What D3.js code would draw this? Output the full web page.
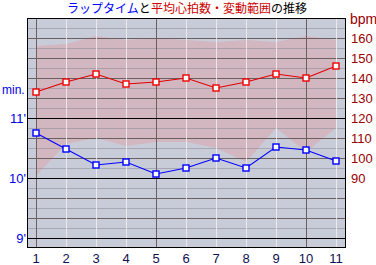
<!DOCTYPE html>
<html><head><meta charset="utf-8">
<script src="https://cdn.jsdelivr.net/npm/d3@7"></script>
<style>
html,body{margin:0;padding:0;background:#fff;}
svg{display:block;}
text{font-family:"Liberation Sans",Arial,sans-serif;}
</style></head>
<body>
<svg id="c" width="376" height="265"></svg>
<script>
// ---- data ----
const laps = [1,2,3,4,5,6,7,8,9,10,11];
const lapSeconds = [645,629,613,616,604,610,620,610,631,628,617];   // lap time (s)
const avgHR = [133,138,142,137,138,140,135,138,142,140,146];         // bpm
const hrMax = [156,157,161,159,160,159,158,159,158,161,159];         // bpm range top
const hrMin = [91,107,110,106,108,108,105,98,115,103,115];           // bpm range bottom
const minTicks = [540,600,660];
const minTickLabels = ["9'","10'","11'"];
const bpmTicks = [90,100,110,120,130,140,150,160];

const svg = d3.select("#c");
const L=27, R=346, T=18, B=248;

const x = d3.scaleLinear().domain([0.7, 11.3333]).range([L, R]);
const yT = d3.scaleLinear().domain([530, 760]).range([B, T]);
const yH = d3.scaleLinear().domain([55, 170]).range([B, T]);

// background
svg.append("rect").attr("x",L).attr("y",T).attr("width",R-L).attr("height",B-T).attr("fill","#c8ccd8");

// HR range band
const area = d3.area().x((d,i)=>x(laps[i])).y0((d,i)=>yH(hrMin[i])).y1((d,i)=>yH(hrMax[i]));
svg.append("path").datum(laps).attr("d",area).attr("fill","#d2b7c1");

// light horizontal grid every 10 s
const g = svg.append("g").attr("shape-rendering","crispEdges");
d3.range(540, 760, 10).forEach(s=>{
  g.append("line").attr("x1",L).attr("x2",R).attr("y1",Math.round(yT(s))+0.5).attr("y2",Math.round(yT(s))+0.5)
   .attr("stroke","#8c8a96").attr("stroke-opacity",0.55);
});
// dark grid for bpm every 10
d3.range(60, 170, 10).forEach(b=>{
  g.append("line").attr("x1",L).attr("x2",R).attr("y1",Math.round(yH(b))+0.5).attr("y2",Math.round(yH(b))+0.5)
   .attr("stroke","#6a6060");
});
// vertical grid
laps.forEach(l=>{
  const dark = (l===1||l%5===0);
  g.append("line").attr("x1",Math.round(x(l))+0.5).attr("x2",Math.round(x(l))+0.5).attr("y1",T).attr("y2",B)
   .attr("stroke",dark?"#6a6060":"#f4f0f4").attr("stroke-opacity",dark?1:0.8);
});
// black minute lines
minTicks.forEach(s=>{
  g.append("line").attr("x1",L).attr("x2",R).attr("y1",Math.round(yT(s))+0.5).attr("y2",Math.round(yT(s))+0.5)
   .attr("stroke","#000");
});
// frame
g.append("rect").attr("x",L+0.5).attr("y",T+0.5).attr("width",R-L-1).attr("height",B-T-1)
 .attr("fill","none").attr("stroke","#000");

// avg HR line
const lineH = d3.line().x((d,i)=>x(laps[i])).y(d=>yH(d));
svg.append("path").datum(avgHR).attr("d",lineH).attr("fill","none").attr("stroke","#e00000").attr("stroke-width",1.1);
svg.selectAll(".mh").data(avgHR).enter().append("rect")
  .attr("x",(d,i)=>Math.round(x(laps[i]))-3).attr("y",d=>Math.round(yH(d))-3)
  .attr("width",6).attr("height",6).attr("fill","#fff").attr("stroke","#f00000").attr("stroke-width",1.4);

// lap time line
const lineT = d3.line().x((d,i)=>x(laps[i])).y(d=>yT(d));
svg.append("path").datum(lapSeconds).attr("d",lineT).attr("fill","none").attr("stroke","#0000ff").attr("stroke-width",1.1);
svg.selectAll(".mt").data(lapSeconds).enter().append("rect")
  .attr("x",(d,i)=>Math.round(x(laps[i]))-3).attr("y",d=>Math.round(yT(d))-3)
  .attr("width",6).attr("height",6).attr("fill","#fff").attr("stroke","#0000ff").attr("stroke-width",1.4);

// left axis labels
minTicks.forEach((s,i)=>{
  svg.append("text").attr("x",26).attr("y",yT(s)+5).attr("text-anchor","end")
    .attr("font-size",13).attr("fill","#0000e8").text(minTickLabels[i]);
});
svg.append("text").attr("x",2).attr("y",94).attr("font-size",12).attr("fill","#0000e8").text("min.");

// right axis labels
bpmTicks.forEach(b=>{
  svg.append("text").attr("x",351).attr("y",yH(b)+5).attr("font-size",13).attr("fill","#990000").text(b);
});
svg.append("text").attr("x",350).attr("y",24).attr("font-size",14).attr("fill","#990000").text("bpm");

// x axis labels
laps.forEach(l=>{
  svg.append("text").attr("x",x(l)).attr("y",263).attr("text-anchor","middle")
    .attr("font-size",13).attr("fill","#101050").text(l);
});

// title
const title = svg.append("text").attr("x",187).attr("y",13).attr("text-anchor","middle")
  .attr("font-size",12).style("font-family","'Noto Sans CJK JP',sans-serif");
title.append("tspan").attr("fill","#0000ff").text("ラップタイム");
title.append("tspan").attr("fill","#000").text("と");
title.append("tspan").attr("fill","#cc0000").text("平均心拍数・変動範囲");
title.append("tspan").attr("fill","#000").text("の推移");
</script>
</body></html>
